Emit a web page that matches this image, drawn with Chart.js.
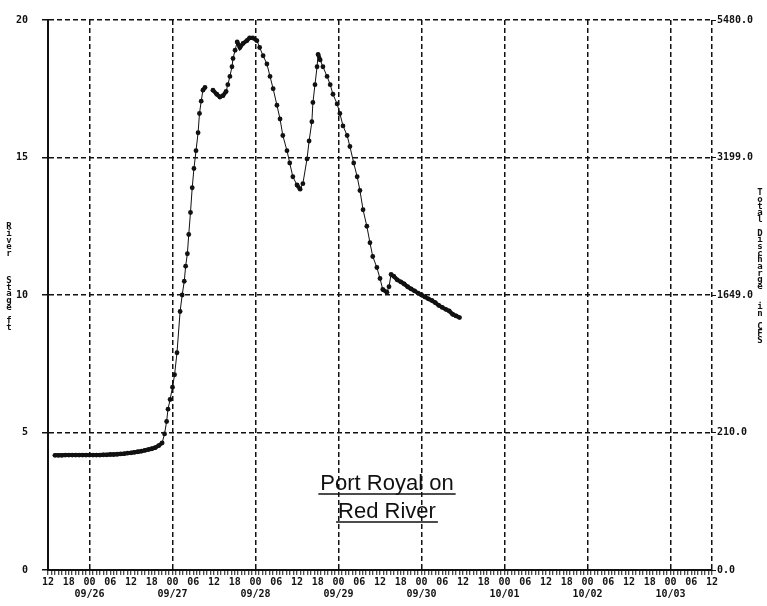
<!DOCTYPE html>
<html>
<head>
<meta charset="utf-8">
<script src="https://cdn.jsdelivr.net/npm/chart.js@4.4.0/dist/chart.umd.min.js"></script>
<style>
body { margin: 0; background: #fff; }
#wrap { width: 767px; height: 606px; position: relative; }
</style>
</head>
<body>
<div id="wrap"><canvas id="chart"></canvas></div>
<script>
// hours since 09/25 12:00, river stage in ft
const stageHours = [
  2, 3, 4, 5, 6, 7, 8, 9, 10, 11, 12, 13, 14, 15, 16, 17, 18, 19, 20, 21,
  22, 23, 24, 25, 26, 27, 28, 29, 30, 31, 32, 33,
  33.7, 34.3, 34.7, 35.3, 36.0, 36.6, 37.3, 38.2, 38.8, 39.4, 39.8, 40.3,
  40.7, 41.2, 41.7, 42.2, 42.8, 43.4, 43.8, 44.3, 44.8, 45.4,
  46.5,
  47.7, 48.8, 49.7, 50.6, 51.5, 52.0, 52.6, 53.2, 53.5, 54.1, 54.7, 55.5,
  56.4, 57.5, 58.3, 59.2, 60.4, 61.2, 62.2, 63.3, 64.2, 65.1, 66.2, 67.1,
  67.9, 69.1, 69.9, 70.8, 72.0, 72.9, 73.7, 74.9, 75.5, 76.3, 76.6, 77.2,
  77.8, 78.1, 78.7, 79.5, 80.7, 81.6, 82.4, 83.6, 84.4, 85.3, 86.5, 87.3,
  88.4, 89.4, 90.2, 91.1, 92.2, 93.1, 93.9, 95.1, 96.0, 96.8, 98.0, 98.6,
  99.2, 100, 101, 102, 103, 104, 105, 106, 107, 108, 109, 110, 111, 112,
  113, 114, 115, 116, 117, 118, 119
];
const stageFt = [
  4.17, 4.17, 4.17, 4.18, 4.18, 4.18, 4.18, 4.18, 4.18, 4.18, 4.18, 4.18, 4.18, 4.18, 4.19, 4.19, 4.2, 4.2, 4.21, 4.22,
  4.23, 4.25, 4.26, 4.28, 4.3, 4.32, 4.35, 4.38, 4.41, 4.45, 4.52, 4.62,
  4.95, 5.4, 5.85, 6.2, 6.65, 7.1, 7.9, 9.4, 10.0, 10.5, 11.05, 11.5,
  12.2, 13.0, 13.9, 14.6, 15.25, 15.9, 16.6, 17.05, 17.45, 17.55,
  null,
  17.45, 17.3, 17.2, 17.25, 17.4, 17.65, 17.95, 18.3, 18.6, 18.9, 19.2, 19.0,
  19.15, 19.25, 19.35, 19.35, 19.25, 19.0, 18.7, 18.4, 17.95, 17.5, 16.9, 16.4,
  15.8, 15.25, 14.8, 14.3, 14.0, 13.85, 14.05, 14.95, 15.6, 16.3, 17.0, 17.65,
  18.3, 18.75, 18.55, 18.3, 17.95, 17.65, 17.3, 16.95, 16.6, 16.15, 15.8, 15.4,
  14.8, 14.3, 13.8, 13.1, 12.5, 11.9, 11.4, 11.0, 10.6, 10.2, 10.1, 10.3,
  10.75, 10.68, 10.55, 10.48, 10.4, 10.3, 10.22, 10.15, 10.07, 10.0, 9.93, 9.86, 9.8, 9.72,
  9.62, 9.55, 9.48, 9.42, 9.3, 9.24, 9.18
];

const hourLabels = ['12', '18', '00', '06'];
const dateLabels = ['09/26', '09/27', '09/28', '09/29', '09/30', '10/01', '10/02', '10/03'];
const stageTicks = [0, 5, 10, 15, 20];
const dischargeLabels = ['0.0', '210.0', '1649.0', '3199.0', '5480.0'];

const tickFont = { family: '"DejaVu Sans Mono", monospace', size: 10, weight: 'bold' };
const ink = '#111';
const clear = 'rgba(0,0,0,0)';

function isDayLine(v) {
  return (v > 0 && (v - 12) % 24 === 0) || v === 192;
}

function stacked(ctx, text, x, y0, step) {
  for (let i = 0; i < text.length; i++) {
    ctx.fillText(text[i], x, y0 + i * step);
  }
}

const extras = {
  id: 'extras',
  beforeDraw(chart) {
    const ctx = chart.ctx;
    ctx.save();
    ctx.fillStyle = '#fff';
    ctx.fillRect(0, 0, chart.width, chart.height);
    ctx.restore();
  },
  afterDraw(chart) {
    const ctx = chart.ctx;
    ctx.save();
    ctx.fillStyle = ink;
    ctx.textAlign = 'center';
    ctx.textBaseline = 'middle';
    ctx.font = 'bold 9px "DejaVu Sans Mono", monospace';
    stacked(ctx, 'River   Stage ft', 9, 227, 6.7);
    stacked(ctx, 'Total Discharge  in CFS', 760, 193, 6.7);

    // station label
    ctx.font = '22px "Liberation Sans", Arial, sans-serif';
    ctx.textBaseline = 'alphabetic';
    ctx.strokeStyle = ink;
    ctx.lineWidth = 1.5;
    [['Port Royal on', 490, 494], ['Red River', 518, 522]].forEach(([t, by, uy]) => {
      ctx.fillText(t, 387, by);
      const w = ctx.measureText(t).width;
      ctx.beginPath();
      ctx.moveTo(387 - w / 2 - 2, uy);
      ctx.lineTo(387 + w / 2 + 2, uy);
      ctx.stroke();
    });
    ctx.restore();
  }
};

new Chart(document.getElementById('chart'), {
  type: 'line',
  data: {
    datasets: [{
      data: stageHours.map((h, i) => ({ x: h, y: stageFt[i] })),
      borderColor: ink,
      borderWidth: 1,
      pointRadius: 2.4,
      pointBackgroundColor: ink,
      pointBorderWidth: 0,
      spanGaps: false,
      tension: 0,
      segment: {
        // hourly readings on slow stretches run together into a thick trace
        borderWidth: c => Math.abs(c.p1.parsed.y - c.p0.parsed.y) < 0.2 ? 4 : 1
      }
    }]
  },
  options: {
    responsive: true,
    maintainAspectRatio: false,
    animation: false,
    layout: { padding: { top: 15, left: 0, right: 0, bottom: 0 } },
    plugins: { legend: { display: false }, tooltip: { enabled: false } },
    scales: {
      x: {
        type: 'linear',
        min: 0,
        max: 192,
        afterFit: s => { s.height = 36; },
        ticks: {
          stepSize: 1,
          autoSkip: false,
          maxRotation: 0,
          padding: 1,
          font: tickFont,
          color: ink,
          callback: v => {
            if (v % 6) return '';
            const h = hourLabels[(v / 6) % 4];
            return h === '00' ? [h, dateLabels[(v - 12) / 24]] : h;
          }
        },
        grid: {
          color: c => isDayLine(c.tick.value) ? ink : clear,
          lineWidth: 1.5,
          tickColor: ink,
          tickLength: 5,
          tickWidth: 1
        },
        border: { color: ink, width: 2, dash: [5, 3] }
      },
      y: {
        position: 'left',
        min: 0,
        max: 20,
        afterFit: s => { s.width = 48; },
        ticks: { stepSize: 5, padding: 14, font: tickFont, color: ink },
        grid: {
          color: c => c.tick.value > 0 ? ink : clear,
          lineWidth: 1.5,
          tickColor: ink,
          tickLength: 6
        },
        border: { color: ink, width: 2, dash: [5, 3] }
      },
      y2: {
        position: 'right',
        min: 0,
        max: 20,
        afterFit: s => { s.width = 55; },
        ticks: {
          stepSize: 5,
          padding: 1,
          font: tickFont,
          color: ink,
          callback: v => dischargeLabels[stageTicks.indexOf(v)]
        },
        grid: { drawOnChartArea: false, tickColor: ink, tickLength: 4 },
        border: { display: false }
      }
    }
  },
  plugins: [extras]
});
</script>
</body>
</html>
